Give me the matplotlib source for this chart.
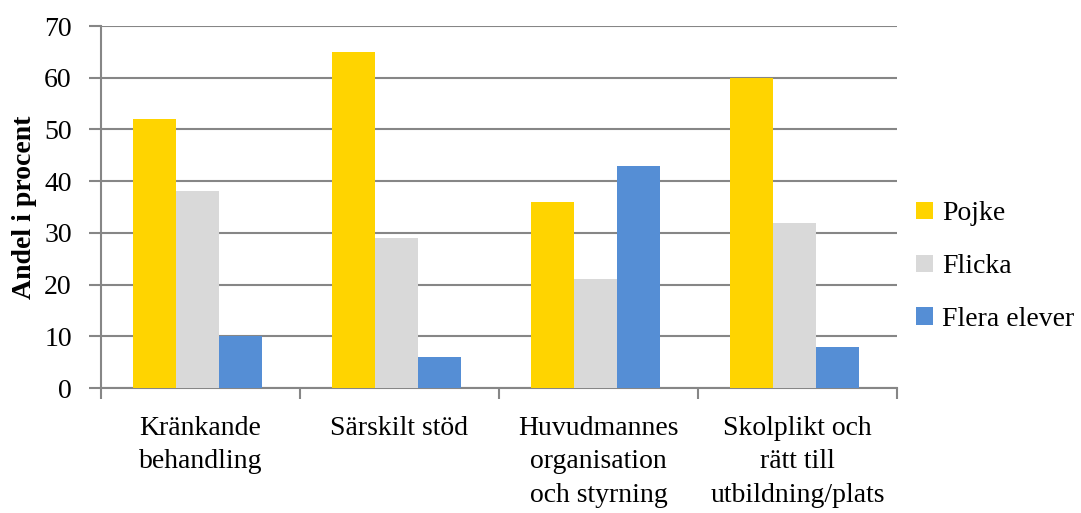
import numpy as np
import matplotlib.pyplot as plt

# Data
categories = ["Kränkande\nbehandling", "Särskilt stöd",
              "Huvudmannes\norganisation\noch styrning",
              "Skolplikt och\nrätt till\nutbildning/plats"]
series = ["Pojke", "Flicka", "Flera elever"]
pojke = [52, 65, 36, 60]
flicka = [38, 29, 21, 32]
flera = [10, 6, 43, 8]
colors = ["#FFD400", "#D9D9D9", "#558ED5"]

plt.rcParams['font.family'] = ['Liberation Serif', 'DejaVu Serif']

fig = plt.figure(figsize=(10.81, 5.13), dpi=100)
ax = fig.add_axes([101 / 1081, 1 - 388 / 513, 796 / 1081, 362 / 513])

x = np.arange(len(categories))
w = 0.216
for i, (vals, name) in enumerate(zip([pojke, flicka, flera], series)):
    ax.bar(x + (i - 1) * w - 0.015, vals, w, color=colors[i], label=name, zorder=3)

ax.set_xlim(-0.5, len(categories) - 0.5)
ax.set_ylim(0, 70)
ax.set_yticks(range(0, 71, 10))
ax.yaxis.grid(True, color="#868686", linewidth=1.5, zorder=0)
ax.tick_params(axis="y", length=9, width=1.5, color="#868686", labelsize=20, pad=12)

ax.set_xticks(np.arange(len(categories) + 1) - 0.5, minor=False)
ax.set_xticklabels([])
ax.tick_params(axis="x", length=8, width=1.5, color="#868686")
ax.set_xticks(x, minor=True)
ax.set_xticklabels(categories, minor=True, fontsize=20, linespacing=1.45)
ax.tick_params(axis="x", which="minor", length=0, pad=20)

for s in ["top", "right"]:
    ax.spines[s].set_visible(False)
for s in ["left", "bottom"]:
    ax.spines[s].set_color("#868686")
    ax.spines[s].set_linewidth(1.5)

ax.set_ylabel("Andel i procent", fontsize=20, fontweight="bold", labelpad=5)

ax.legend(loc="center left", bbox_to_anchor=(1.01, 0.335), frameon=False,
          fontsize=20, handlelength=0.6, handleheight=0.6, handletextpad=0.35,
          labelspacing=1.0, borderaxespad=0)

fig.savefig("out.png", dpi=100)
